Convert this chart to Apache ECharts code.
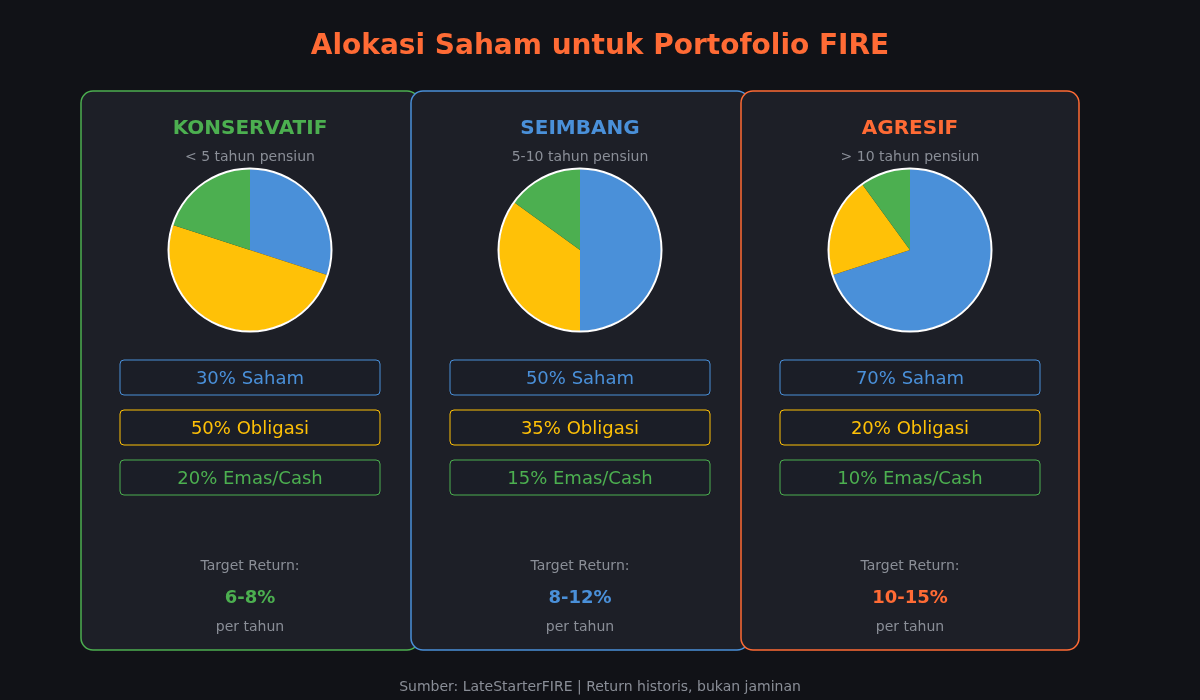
<!DOCTYPE html>
<html><head><meta charset="utf-8">
<script src="https://cdn.jsdelivr.net/npm/echarts@6/dist/echarts.min.js"></script>
<style>html,body{margin:0;padding:0;background:#111217;}#c{width:1200px;height:700px;}</style>
</head><body><div id="c"></div>
<script>
const profiles = ['KONSERVATIF', 'SEIMBANG', 'AGRESIF'];
const horizons = ['< 5 tahun pensiun', '5-10 tahun pensiun', '> 10 tahun pensiun'];
const assetNames = ['Saham', 'Obligasi', 'Emas/Cash'];
const saham = [30, 50, 70];
const obligasi = [50, 35, 20];
const emas = [20, 15, 10];
const targetReturns = ['6-8%', '8-12%', '10-15%'];

const FONT = 'DejaVu Sans';
const assetColors = ['#4A90D9', '#FFC107', '#4CAF50'];
const profileColors = ['#4CAF50', '#4A90D9', '#FF6B35'];
const grey = '#8a8e97';

const chart = echarts.init(document.getElementById('c'), null, {renderer: 'canvas'});
const series = [];
const graphic = [];
const panelX = [81, 411, 741];
const panelW = 338;

profiles.forEach((p, i) => {
  const cx = 250 + 330 * i;
  graphic.push({type: 'rect', z: 0, shape: {x: panelX[i], y: 91, width: panelW, height: 559, r: 12},
    style: {fill: '#1d1f27', stroke: profileColors[i], lineWidth: 1.5}});
  graphic.push({type: 'text', z: 5, x: cx, y: 129, style: {text: p, fill: profileColors[i], font: 'bold 20px ' + FONT, textAlign: 'center', textVerticalAlign: 'middle'}});
  graphic.push({type: 'text', z: 5, x: cx, y: 157, style: {text: horizons[i], fill: grey, font: '14px ' + FONT, textAlign: 'center', textVerticalAlign: 'middle'}});
  const vals = [saham[i], obligasi[i], emas[i]];
  vals.forEach((v, k) => {
    const by = 360 + k * 50;
    graphic.push({type: 'rect', z: 5, shape: {x: cx - 130, y: by, width: 260, height: 35, r: 4},
      style: {fill: '#1b1e27', stroke: assetColors[k], lineWidth: 1}});
    graphic.push({type: 'text', z: 6, x: cx, y: by + 19, style: {text: v + '% ' + assetNames[k], fill: assetColors[k], font: '18px ' + FONT, textAlign: 'center', textVerticalAlign: 'middle'}});
  });
  graphic.push({type: 'text', z: 5, x: cx, y: 566, style: {text: 'Target Return:', fill: grey, font: '14px ' + FONT, textAlign: 'center', textVerticalAlign: 'middle'}});
  graphic.push({type: 'text', z: 5, x: cx, y: 598, style: {text: targetReturns[i], fill: profileColors[i], font: 'bold 18px ' + FONT, textAlign: 'center', textVerticalAlign: 'middle'}});
  graphic.push({type: 'text', z: 5, x: cx, y: 627, style: {text: 'per tahun', fill: grey, font: '14px ' + FONT, textAlign: 'center', textVerticalAlign: 'middle'}});
  series.push({
    type: 'pie', center: [cx, 250], radius: [0, 81], startAngle: 90, clockwise: true,
    label: {show: false}, labelLine: {show: false}, silent: true, z: 10,
    itemStyle: {borderColor: '#ffffff', borderWidth: 0},
    data: vals.map((v, k) => ({value: v, name: assetNames[k], itemStyle: {color: assetColors[k]}}))
  });
  series.push({
    type: 'pie', center: [cx, 250], radius: [80.5, 82.5], silent: true, z: 11,
    label: {show: false}, labelLine: {show: false},
    itemStyle: {color: '#ffffff'}, data: [{value: 1, name: ''}]
  });
});

graphic.push({type: 'text', z: 5, x: 600, y: 47, style: {text: 'Alokasi Saham untuk Portofolio FIRE', fill: '#FF6B35', font: 'bold 28px ' + FONT, textAlign: 'center', textVerticalAlign: 'middle'}});
graphic.push({type: 'text', z: 5, x: 600, y: 687, style: {text: 'Sumber: LateStarterFIRE | Return historis, bukan jaminan', fill: grey, font: '14px ' + FONT, textAlign: 'center', textVerticalAlign: 'middle'}});

chart.setOption({
  backgroundColor: '#111217',
  animation: false,
  series: series,
  graphic: graphic
});
</script></body></html>
